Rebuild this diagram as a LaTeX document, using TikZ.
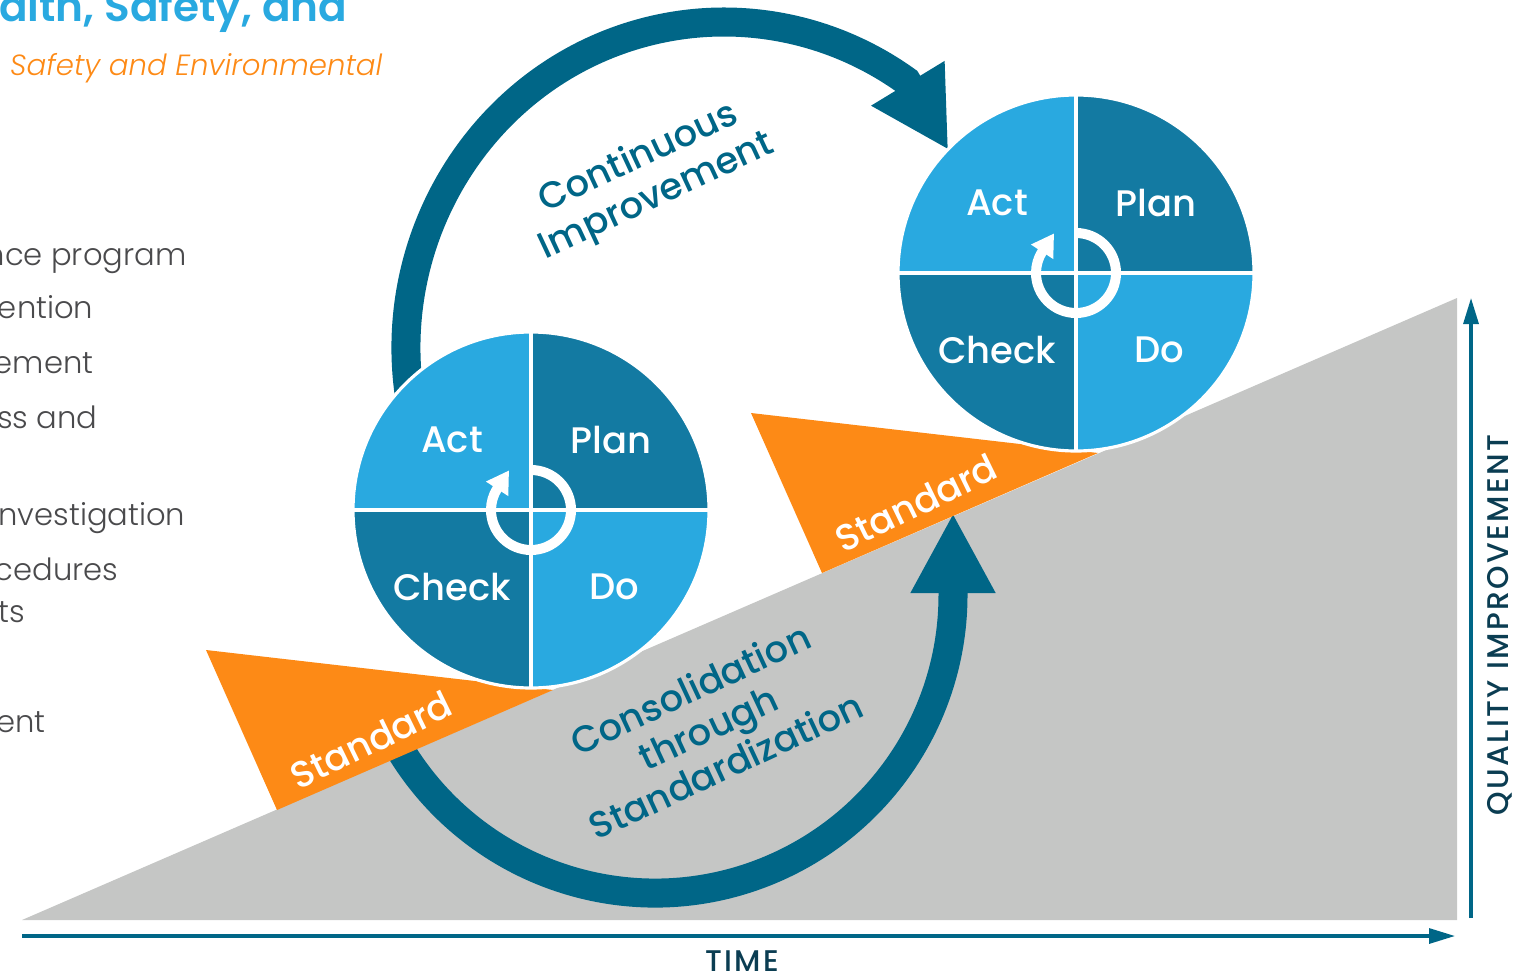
\documentclass[tikz,border=0pt]{standalone}
\usepackage{fontspec}
\setmainfont{Poppins}
\newfontfamily\medfont{Poppins Medium}
\newfontfamily\semifont{Poppins SemiBold}
\newfontfamily\lightfont{Poppins Light}
\newfontfamily\lightitfont{Poppins Light Italic}
\usetikzlibrary{arrows.meta}

\definecolor{lightq}{HTML}{29A9E0}
\definecolor{darkq}{HTML}{137AA2}
\definecolor{arcteal}{HTML}{006687}
\definecolor{stdorange}{HTML}{FD8A16}
\definecolor{slopegray}{HTML}{C5C6C5}
\definecolor{axisnavy}{HTML}{0B3D52}
\definecolor{listgray}{HTML}{4A4A4C}

\begin{document}
\begin{tikzpicture}[x=0.01cm,y=0.01cm,
  bigarrow/.style={draw=arcteal, line width=0.29cm},
  axisline/.style={draw=arcteal, line width=0.9pt, -{Triangle[length=0.26cm,width=0.15cm]}},
  axislbl/.style={text=axisnavy, font=\medfont\fontsize{8.5}{10}\selectfont\addfontfeature{LetterSpace=8}},
  divider/.style={draw=white, line width=0.9pt},
  ring/.style={draw=white, line width=0.1cm},
  pdca/.style={text=white, font=\medfont\fontsize{10.5}{12}\selectfont},
  stdlbl/.style={text=white, font=\medfont\fontsize{10.5}{12}\selectfont},
  cilbl/.style={text=arcteal, align=center, font=\medfont\fontsize{10.5}{12}\selectfont},
  listtxt/.style={text=listgray, anchor=base east, inner sep=0pt, font=\lightfont\fontsize{8.7}{10}\selectfont}]
\useasboundingbox (0,0) rectangle (1525,-973);

% left hand text of the page
\node[text=lightq, anchor=base east, inner sep=0pt, font=\semifont\fontsize{12}{14}\selectfont] (title) at (348,-22) {alth, Safety, and};
\node[text=stdorange, anchor=base east, inner sep=0pt, font=\lightitfont\fontsize{8.3}{11}\selectfont] (subtitle) at (383,-76) {Safety and Environmental};
\node[listtxt] (l1) at (187,-265) {nce program};
\node[listtxt] (l2) at (94,-318) {ention};
\node[listtxt] (l3) at (94,-373) {ement};
\node[listtxt] (l4) at (98,-428) {ss and};
\node[listtxt] (l5) at (186,-525) {nvestigation};
\node[listtxt] (l6) at (119,-580) {cedures};
\node[listtxt] (l7) at (26,-622) {ts};
\node[listtxt] (l8) at (46,-732) {ent};

% continuous improvement
\coordinate (topctr) at (724,-348);
\draw[bigarrow, -{Triangle[length=0.78cm,width=0.80cm]}] ([shift={(192:318 and 326)}]topctr) arc[start angle=192, end angle=55, x radius=318, y radius=326] -- ++(42,-69);

% slope and axes
\fill[slopegray] (22,-920) coordinate (foot) -- (1457,-920) -- (1457,-298) coordinate (peak) -- cycle;
\coordinate (torig) at (22,-936);
\coordinate (tend) at (1455,-936);
\coordinate (qorig) at (1471,-918);
\coordinate (qend) at (1471,-298);
\draw[axisline] (torig) -- (tend);
\draw[axisline] (qorig) -- (qend);
\node[axislbl] (time) at (742,-961) {TIME};
\node[axislbl, rotate=90] (quality) at (1500,-625) {QUALITY IMPROVEMENT};

% consolidation
\coordinate (botctr) at (655,-595);
\draw[bigarrow, -{Triangle[length=0.80cm,width=0.79cm]}] ([shift={(205:298)}]botctr) arc[start angle=205, end angle=360, radius=298] -- ++(0,82);

% the two PDCA wheels on their standards
\foreach \cx/\cy/\nm in {531/-510/a, 1076/-273/b} {
  \coordinate (ctr\nm) at (\cx,\cy);
  \fill[stdorange] ([shift={(-325,-140)}]ctr\nm) -- ([shift={(22,-180)}]ctr\nm) -- ([shift={(-254,-300)}]ctr\nm) -- cycle;
  \fill[lightq] (ctr\nm) -- +(180:178) arc[start angle=180, end angle=90, radius=178] -- cycle;
  \fill[darkq] (ctr\nm) -- +(90:178) arc[start angle=90, end angle=0, radius=178] -- cycle;
  \fill[lightq] (ctr\nm) -- +(0:178) arc[start angle=0, end angle=-90, radius=178] -- cycle;
  \fill[darkq] (ctr\nm) -- +(-90:178) arc[start angle=-90, end angle=-180, radius=178] -- cycle;
  \draw[divider] (ctr\nm) circle[radius=178];
  \draw[divider] (ctr\nm) +(-178,0) -- +(178,0) (ctr\nm) +(0,-178) -- +(0,178);
  \draw[ring, -{Triangle[length=0.22cm,width=0.25cm]}] ([shift={(90:40)}]ctr\nm) arc[start angle=90, end angle=-212, radius=40] -- ++(57:22);
  \node[pdca] (act\nm) at ([shift={(-79,70)}]ctr\nm) {Act};
  \node[pdca] (plan\nm) at ([shift={(80,70)}]ctr\nm) {Plan};
  \node[pdca] (check\nm) at ([shift={(-79,-77)}]ctr\nm) {Check};
  \node[pdca] (do\nm) at ([shift={(83,-77)}]ctr\nm) {Do};
  \node[stdlbl, rotate=26] (std\nm) at ([shift={(-160,-230)}]ctr\nm) {Standard};
}

\node[cilbl, rotate=25] (contimp) at (648,-178) {Continuous\\Improvement};
\node[cilbl, rotate=25] (consol) at (708,-727) {Consolidation\\through\\Standardization};
\end{tikzpicture}
\end{document}
